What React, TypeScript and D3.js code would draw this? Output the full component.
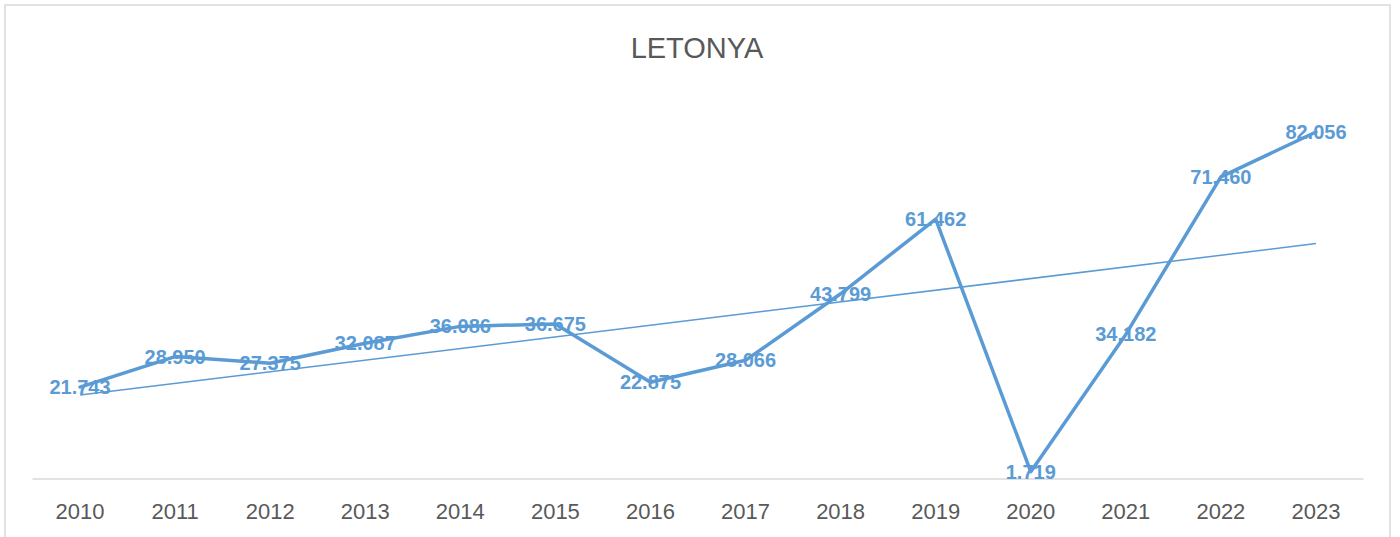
import React from "react";
import * as d3 from "d3";

const years = ["2010","2011","2012","2013","2014","2015","2016","2017","2018","2019","2020","2021","2022","2023"];
const values = [21.743, 28.950, 27.375, 32.087, 36.086, 36.675, 22.875, 28.066, 43.799, 61.462, 1.719, 34.182, 71.460, 82.056];
const yDomain = [0, 90];
const title = "LETONYA";

const W = 1400, H = 537;
const COLOR = "#5B9BD5";

export default function App() {
  const x = d3.scaleBand().domain(years).range([32.5, 1363.5]);
  const y = d3.scaleLinear().domain(yDomain).range([479, 98.4]);
  const cx = (yr: string) => (x(yr) as number) + x.bandwidth() / 2;

  const line = d3.line<number>().x((_, i) => cx(years[i])).y((v) => y(v));

  // linear trendline (least squares over index)
  const n = values.length;
  const xs = values.map((_, i) => i + 1);
  const mx = d3.mean(xs) as number;
  const my = d3.mean(values) as number;
  const sxy = d3.sum(xs.map((xi, i) => (xi - mx) * (values[i] - my)));
  const sxx = d3.sum(xs.map((xi) => (xi - mx) ** 2));
  const slope = sxy / sxx;
  const icpt = my - slope * mx;
  const t0 = icpt + slope * 1;
  const t1 = icpt + slope * n;

  return (
    <svg width={W} height={H} style={{ position: "absolute", left: 0, top: 0 }} fontFamily="'Liberation Sans', Arial, sans-serif">
      <rect x={0} y={0} width={W} height={H} fill="#fff" />
      <rect x={5} y={5} width={1385} height={600} fill="#fff" stroke="#d9d9d9" strokeWidth={1.5} />
      <text x={697} y={58} textAnchor="middle" fontSize={29} fill="#595959">{title}</text>
      <line x1={32.5} x2={1363.5} y1={y(0)} y2={y(0)} stroke="#d9d9d9" strokeWidth={1.5} />
      {years.map((yr) => (
        <text key={yr} x={cx(yr)} y={519} textAnchor="middle" fontSize={22} fill="#595959">{yr}</text>
      ))}
      <line x1={cx(years[0])} y1={y(t0)} x2={cx(years[n - 1])} y2={y(t1)} stroke={COLOR} strokeWidth={1.5} />
      <path d={line(values) as string} fill="none" stroke={COLOR} strokeWidth={3.5} strokeLinejoin="round" strokeLinecap="round" />
      {values.map((v, i) => (
        <text key={i} x={cx(years[i])} y={y(v)} dy="0.35em" textAnchor="middle" fontSize={20} fontWeight="bold" fill={COLOR}>
          {d3.format(".3f")(v)}
        </text>
      ))}
    </svg>
  );
}
